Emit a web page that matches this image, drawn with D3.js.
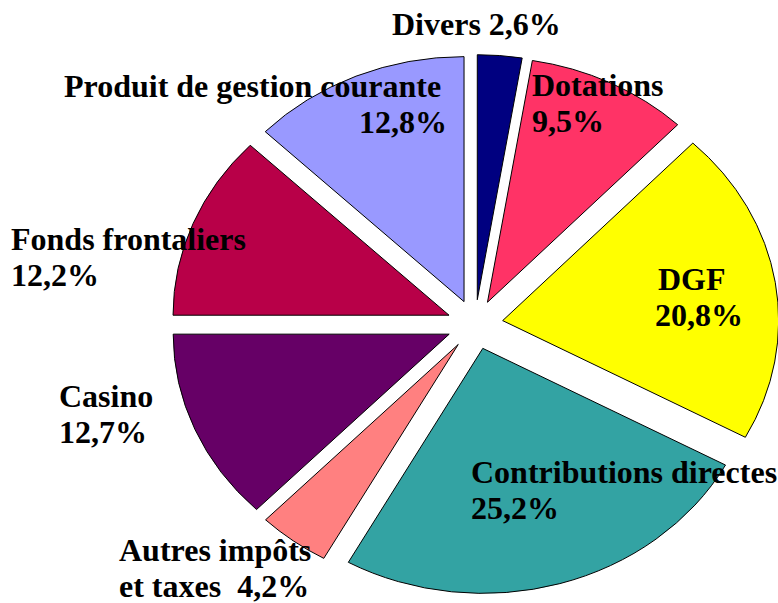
<!DOCTYPE html>
<html>
<head>
<meta charset="utf-8">
<script src="https://cdn.jsdelivr.net/npm/d3@7"></script>
<style>
  body { margin: 0; background: #fff; }
  text { font-family: "Liberation Serif", "Times New Roman", serif; font-weight: bold; font-size: 32px; fill: #000; white-space: pre; }
</style>
</head>
<body>
<div id="chart"></div>
<script>
// slices, clockwise from 12 o'clock
const names = ["Divers", "Dotations", "DGF", "Contributions directes", "Autres impôts et taxes", "Casino", "Fonds frontaliers", "Produit de gestion courante"];
const values = [2.6, 9.5, 20.8, 25.2, 4.2, 12.7, 12.2, 12.8];
const colors = ["#000080", "#ff3366", "#ffff00", "#33a3a3", "#ff8080", "#660066", "#b80048", "#9999ff"];

const width = 778;
const height = 603;
const cx = 475, cy = 324.5;
const rx = 276, ry = 245;
const explode = 28;

const fmt = v => d3.format(".1f")(v).replace(".", ",") + "%";

// label layout: lines, x, first baseline, anchor
const labelLayout = [
  { lines: d => [d.name + " " + fmt(d.value)], x: 392, y: 35 },
  { lines: d => [d.name, fmt(d.value)], x: 532, y: 96 },
  { lines: d => [d.name, fmt(d.value)], x: 658, y: 290, x2: 655 },
  { lines: d => [d.name, fmt(d.value)], x: 471, y: 483 },
  { lines: d => ["Autres impôts", "et taxes  " + fmt(d.value)], x: 119, y: 561 },
  { lines: d => [d.name, fmt(d.value)], x: 59, y: 407 },
  { lines: d => [d.name, fmt(d.value)], x: 11, y: 250 },
  { lines: d => [d.name, fmt(d.value)], x: 64, y: 97, x2: 447, anchor2: "end" }
];

const data = names.map((n, i) => ({ name: n, value: values[i], color: colors[i] }));

const svg = d3.select("#chart").append("svg")
  .attr("width", width)
  .attr("height", height);

const pie = d3.pie().sort(null).value(d => d.value);
const arc = d3.arc().innerRadius(0).outerRadius(rx);

const pieG = svg.append("g")
  .attr("transform", `translate(${cx},${cy}) scale(1,${ry / rx})`);

pieG.selectAll("path")
  .data(pie(data))
  .enter()
  .append("path")
  .attr("d", arc)
  .attr("transform", d => {
    const a = (d.startAngle + d.endAngle) / 2;
    return `translate(${explode * Math.sin(a)},${-explode * Math.cos(a)})`;
  })
  .attr("fill", d => d.data.color)
  .attr("stroke", "#000")
  .attr("stroke-width", 1)
  .attr("vector-effect", "non-scaling-stroke");

const lineH = 36;
data.forEach((d, i) => {
  const L = labelLayout[i];
  L.lines(d).forEach((t, j) => {
    svg.append("text")
      .attr("x", j === 0 ? L.x : (L.x2 !== undefined ? L.x2 : L.x))
      .attr("y", L.y + j * lineH)
      .attr("text-anchor", j === 0 ? "start" : (L.anchor2 || "start"))
      .text(t);
  });
});
</script>
</body>
</html>
